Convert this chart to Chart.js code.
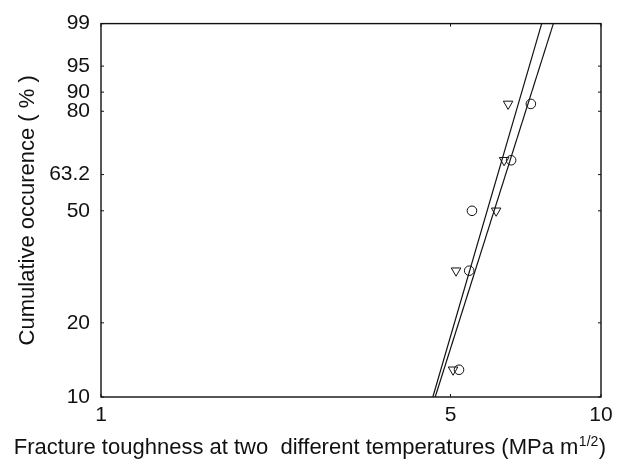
<!DOCTYPE html>
<html><head><meta charset="utf-8">
<script src="https://cdn.jsdelivr.net/npm/chart.js@4.4.1/dist/chart.umd.min.js"></script>
<style>html,body{margin:0;padding:0;background:#fff}#wrap{width:621px;height:464px}</style>
</head><body><div id="wrap"><canvas id="c" width="621" height="464"></canvas></div>
<script>
// ---- data ----
const cumulativeProbability = [12.96, 31.48, 50, 68.52, 87.04];   // % (median ranks)
const toughnessTriangles = [5.06, 5.13, 6.17, 6.40, 6.52];          // MPa m^1/2
const toughnessCircles   = [5.20, 5.45, 5.52, 6.61, 7.24];          // MPa m^1/2
const fitProbability = [10, 99];
const fitTrianglesX  = [4.61, 7.61];
const fitCirclesX    = [4.66, 8.03];
const yTickPercent = [10, 20, 50, 63.2, 85, 90, 95, 99];
const yTickLabels  = ['10', '20', '50', '63.2', '80', '90', '95', '99'];
const xTickValues  = [1, 5, 10];
const xTickLabels  = ['1', '5', '10'];
const yTitle = 'Cumulative occurence ( % )';
const xTitleMain = 'Fracture toughness at two  different temperatures (MPa m';
const xTitleSup = '1/2';
const xTitleEnd = ')';

function weibull(p) { return Math.log(-Math.log(1 - p / 100)); }
const FONT = '"Liberation Sans", Arial, sans-serif';
const INK = '#111';

const framePlugin = {
  id: 'frame',
  afterDraw(chart) {
    const { ctx, chartArea: a, scales } = chart;
    ctx.save();
    ctx.strokeStyle = INK;
    ctx.lineWidth = 1.4;
    ctx.strokeRect(a.left, a.top, a.right - a.left, a.bottom - a.top);
    ctx.lineWidth = 1;
    yTickPercent.forEach(p => {
      const y = scales.y.getPixelForValue(weibull(p));
      ctx.beginPath();
      ctx.moveTo(a.left, y); ctx.lineTo(a.left + 3, y);
      ctx.moveTo(a.right, y); ctx.lineTo(a.right - 3, y);
      ctx.stroke();
    });
    xTickValues.forEach(v => {
      const x = scales.x.getPixelForValue(v);
      ctx.beginPath();
      ctx.moveTo(x, a.bottom); ctx.lineTo(x, a.bottom - 3);
      ctx.moveTo(x, a.top); ctx.lineTo(x, a.top + 3);
      ctx.stroke();
    });
    // x title with superscript
    ctx.fillStyle = INK;
    ctx.textBaseline = 'alphabetic';
    const big = '22px ' + FONT, small = '14px ' + FONT;
    ctx.font = big;
    const w1 = ctx.measureText(xTitleMain).width;
    const w3 = ctx.measureText(xTitleEnd).width;
    ctx.font = small;
    const w2 = ctx.measureText(xTitleSup).width;
    const total = w1 + w2 + w3 + 1;
    let x0 = 310 - total / 2;
    const base = 454;
    ctx.font = big;
    ctx.fillText(xTitleMain, x0, base);
    ctx.font = small;
    ctx.fillText(xTitleSup, x0 + w1 + 0.5, base - 8);
    ctx.font = big;
    ctx.fillText(xTitleEnd, x0 + w1 + w2 + 1, base);
    ctx.restore();
  }
};

new Chart(document.getElementById('c'), {
  type: 'scatter',
  data: {
    datasets: [
      {
        data: fitTrianglesX.map((x, i) => ({ x, y: weibull(fitProbability[i]) })),
        showLine: true, borderColor: INK, borderWidth: 1.2, pointRadius: 0
      },
      {
        data: fitCirclesX.map((x, i) => ({ x, y: weibull(fitProbability[i]) })),
        showLine: true, borderColor: INK, borderWidth: 1.2, pointRadius: 0
      },
      {
        data: toughnessTriangles.map((x, i) => ({ x, y: weibull(cumulativeProbability[i]) })),
        pointStyle: 'triangle', rotation: 180, pointRadius: 5.5,
        borderColor: INK, backgroundColor: 'rgba(0,0,0,0)', pointBorderWidth: 1
      },
      {
        data: toughnessCircles.map((x, i) => ({ x, y: weibull(cumulativeProbability[i]) })),
        pointStyle: 'circle', pointRadius: 4.8,
        borderColor: INK, backgroundColor: 'rgba(0,0,0,0)', pointBorderWidth: 1
      }
    ]
  },
  options: {
    responsive: false,
    animation: false,
    devicePixelRatio: 1,
    layout: { padding: { top: 16, right: 20, left: 0, bottom: 0 } },
    plugins: { legend: { display: false }, tooltip: { enabled: false } },
    scales: {
      x: {
        type: 'logarithmic', min: 1, max: 10,
        afterBuildTicks: s => { s.ticks = xTickValues.map(v => ({ value: v })); },
        afterFit: s => { s.height = 67; },
        grid: { display: false, drawTicks: false },
        border: { display: false },
        ticks: {
          autoSkip: false, maxRotation: 0, padding: 6, color: INK,
          font: { family: FONT, size: 21 },
          callback: v => xTickLabels[xTickValues.indexOf(v)]
        }
      },
      y: {
        type: 'linear', min: weibull(10), max: weibull(99),
        afterBuildTicks: s => { s.ticks = yTickPercent.map(p => ({ value: weibull(p) })); },
        afterFit: s => { s.width = 101; },
        grid: { display: false, drawTicks: false },
        border: { display: false },
        ticks: {
          autoSkip: false, padding: 11, color: INK,
          font: { family: FONT, size: 21 },
          callback: (v, i) => yTickLabels[i]
        },
        title: {
          display: true, text: yTitle, color: INK,
          font: { family: FONT, size: 22 },
          padding: { top: 15, bottom: 0 }
        }
      }
    }
  },
  plugins: [framePlugin]
});
</script></body></html>
